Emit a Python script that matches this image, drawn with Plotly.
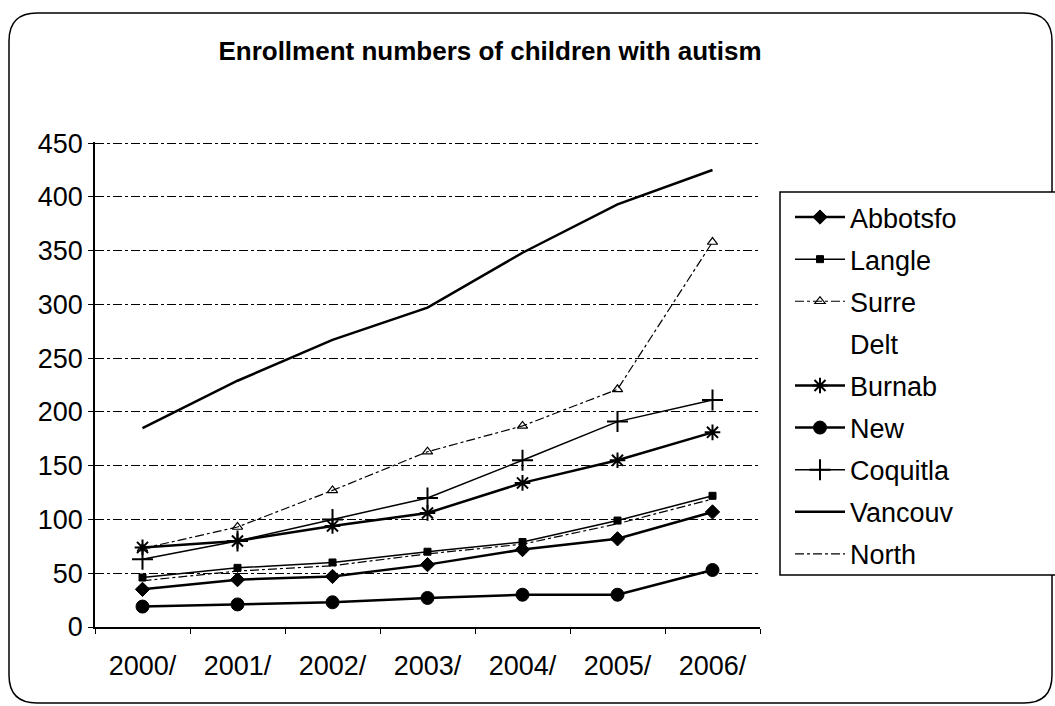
import plotly.graph_objects as go

years = ["2000/", "2001/", "2002/", "2003/", "2004/", "2005/", "2006/"]
abbotsfo = [35, 44, 47, 58, 72, 82, 107]
langle = [46, 55, 60, 70, 79, 99, 122]
surre = [73, 93, 127, 163, 187, 221, 358]
delt = [None, None, None, None, None, None, None]
burnab = [74, 80, 94, 106, 134, 155, 181]
new = [19, 21, 23, 27, 30, 30, 53]
coquitla = [63, 80, 100, 120, 155, 191, 211]
vancouv = [185, 229, 267, 297, 348, 393, 425]
north = [43, 52, 57, 68, 77, 96, 119]
y_ticks = [0, 50, 100, 150, 200, 250, 300, 350, 400, 450]

FONT = "Liberation Sans, Arial, sans-serif"
W, H = 1055, 706
L, R, T, B = 95, 760, 142, 627

fig = go.Figure()

def add(name, y, width, dash="solid", symbol=None, size=8, mlw=1, color="black"):
    marker = dict(symbol=symbol or "circle", size=size, color="black",
                  line=dict(color="black", width=mlw))
    fig.add_trace(go.Scatter(
        x=years, y=y, name=name, legendgroup=name,
        mode="lines+markers" if symbol else "lines",
        line=dict(color=color, width=width, dash=dash),
        marker=marker, connectgaps=False,
    ))

add("Abbotsfo", abbotsfo, 2.5, symbol="diamond", size=11)
add("Langle", langle, 1.5, symbol="square", size=7)
add("Surre", surre, 1.2, dash="dashdot", symbol="triangle-up-open", size=9, mlw=1.2)
add("Delt", delt, 1, color="rgba(0,0,0,0)")
add("Burnab", burnab, 2.5, symbol="asterisk-open", size=13, mlw=2)
add("New", new, 2.5, symbol="circle", size=13)
add("Coquitla", coquitla, 1.5, symbol="cross-thin-open", size=15, mlw=2)
add("Vancouv", vancouv, 2.5)
add("North", north, 1.2, dash="dashdot")

def px(x):
    return (x - L) / (R - L)

def py(y):
    return (B - y) / (B - T)

# rounded outer border
x0, y0, x1, y1, r = 9, 13, 1052, 703, 28
path = (f"M {px(x0+r)},{py(y0)} L {px(x1-r)},{py(y0)} "
        f"Q {px(x1)},{py(y0)} {px(x1)},{py(y0+r)} "
        f"L {px(x1)},{py(y1-r)} Q {px(x1)},{py(y1)} {px(x1-r)},{py(y1)} "
        f"L {px(x0+r)},{py(y1)} Q {px(x0)},{py(y1)} {px(x0)},{py(y1-r)} "
        f"L {px(x0)},{py(y0+r)} Q {px(x0)},{py(y0)} {px(x0+r)},{py(y0)} Z")
fig.add_shape(type="path", path=path, xref="paper", yref="paper",
              line=dict(color="black", width=1.5), layer="below")
# legend frame (extends past the right edge as in the reference)
fig.add_shape(type="rect", xref="paper", yref="paper",
              x0=px(780), x1=px(1070), y0=py(575), y1=py(192),
              line=dict(color="black", width=1.5), fillcolor="white", layer="below")

fig.update_layout(
    width=W, height=H,
    margin=dict(l=L, r=W - R, t=T, b=H - B),
    paper_bgcolor="white", plot_bgcolor="white",
    font=dict(family=FONT, color="black", size=27),
    title=dict(text="<b>Enrollment numbers of children with autism</b>",
               x=490 / W, xanchor="center", y=1 - 51 / H, yanchor="middle",
               font=dict(size=26, family=FONT, color="black")),
    showlegend=True,
    legend=dict(x=px(790), y=py(193), xanchor="left", yanchor="top",
                borderwidth=0, bgcolor="rgba(0,0,0,0)",
                font=dict(size=27, family=FONT), tracegroupgap=4,
                itemwidth=50, traceorder="grouped"),
)
fig.update_xaxes(type="category", range=[-0.5, 6.5], showgrid=False,
                 showline=True, linecolor="black", linewidth=1.5,
                 ticks="outside", tickson="boundaries", ticklen=5, tickcolor="black",
                 ticklabelstandoff=14,
                 tickfont=dict(size=27, family=FONT), fixedrange=True)
fig.update_yaxes(range=[0, 451], tickvals=y_ticks, showgrid=True,
                 gridcolor="black", griddash="dashdot", gridwidth=1,
                 showline=True, linecolor="black", linewidth=1.5,
                 ticks="outside", ticklen=5, tickcolor="black",
                 tickfont=dict(size=27, family=FONT), zeroline=False)

fig.write_html("out.html")
